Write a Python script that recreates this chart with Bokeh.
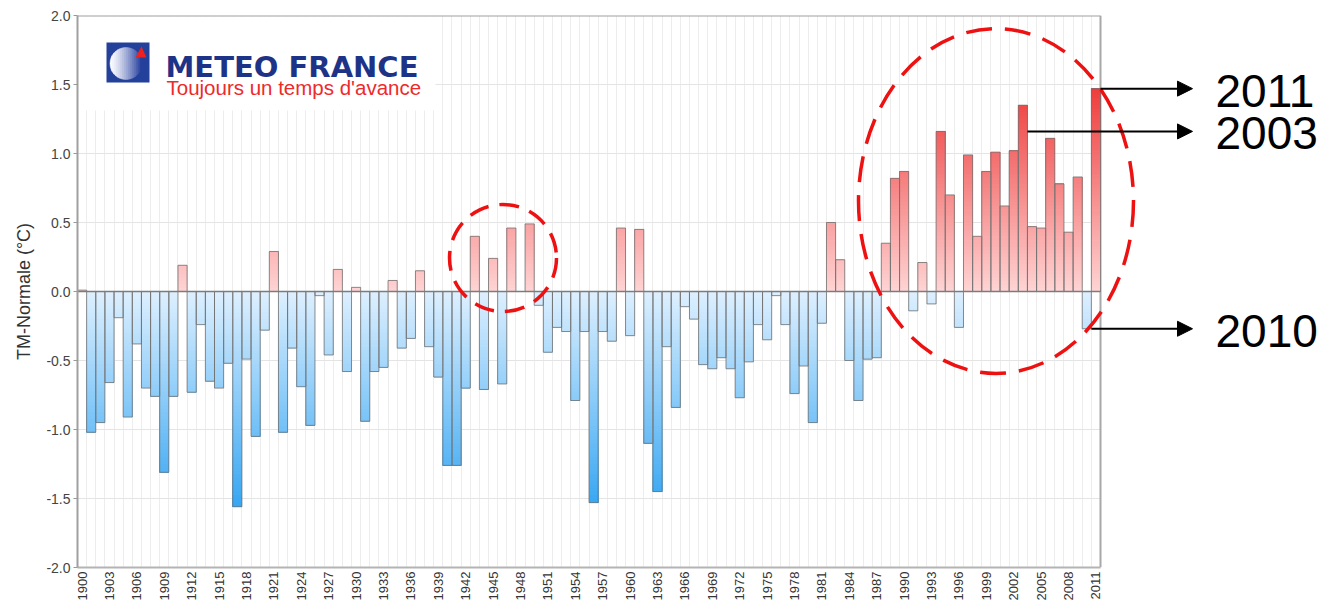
import math
from bokeh.plotting import figure
from bokeh.models import Range1d, FixedTicker, PrintfTickFormatter, Arrow, NormalHead, ColumnDataSource
from bokeh.core.properties import value
from bokeh.embed import file_html
from bokeh.resources import INLINE

# ---------------- data ----------------
years = list(range(1900, 2012))
anomaly = [
    0.01, -1.02, -0.95, -0.66, -0.19, -0.91, -0.38, -0.70, -0.76, -1.31,   # 1900-1909
    -0.76, 0.19, -0.73, -0.24, -0.65, -0.70, -0.52, -1.56, -0.49, -1.05,   # 1910-1919
    -0.28, 0.29, -1.02, -0.41, -0.69, -0.97, -0.03, -0.46, 0.16, -0.58,    # 1920-1929
    0.03, -0.94, -0.58, -0.55, 0.08, -0.41, -0.34, 0.15, -0.40, -0.62,     # 1930-1939
    -1.26, -1.26, -0.70, 0.40, -0.71, 0.24, -0.67, 0.46, 0.00, 0.49,       # 1940-1949
    -0.10, -0.44, -0.26, -0.29, -0.79, -0.29, -1.53, -0.29, -0.36, 0.46,   # 1950-1959
    -0.32, 0.45, -1.10, -1.45, -0.40, -0.84, -0.11, -0.20, -0.53, -0.56,   # 1960-1969
    -0.48, -0.56, -0.77, -0.51, -0.24, -0.35, -0.03, -0.24, -0.74, -0.54,  # 1970-1979
    -0.95, -0.23, 0.50, 0.23, -0.50, -0.79, -0.49, -0.48, 0.35, 0.82,      # 1980-1989
    0.87, -0.14, 0.21, -0.09, 1.16, 0.70, -0.26, 0.99, 0.40, 0.87,         # 1990-1999
    1.01, 0.62, 1.02, 1.35, 0.47, 0.46, 1.11, 0.78, 0.43, 0.83,            # 2000-2009
    -0.27, 1.47,                                                           # 2010-2011
]
tick_years = years[::3]
y_ticks = [-2.0, -1.5, -1.0, -0.5, 0.0, 0.5, 1.0, 1.5, 2.0]
y_label = "TM-Normale (°C)"
ann_years = [2011, 2003, 2010]
ann_text = ["2011", "2003", "2010"]
ann_y = [1.47, 1.16, -0.27]
logo_title = "METEO FRANCE"
logo_slogan = "Toujours un temps d'avance"

# ---------------- layout ----------------
W, H = 1330, 607
BL, BT, BB = 77, 15, 40
FW, FH = W - BL, H - BT - BB
X0, X1 = years[0] - 0.5, years[-1] + 0.5
PX = (1101 - 78) / len(years)          # screen px per year inside the chart box
PY = FH / 4.0                           # screen px per degree
XEND = X0 + FW / PX


def sx(px):  # page x (screenshot) -> data x
    return X0 + (px - 78) / PX


def sy(py):  # page y (screenshot) -> data y
    return 2.0 - (py - 16) / PY


p = figure(width=W, height=H, output_backend="svg", toolbar_location=None,
           x_range=Range1d(X0, XEND), y_range=Range1d(-2.0, 2.0),
           min_border_left=BL, min_border_right=0, min_border_top=BT, min_border_bottom=BB)
p.outline_line_color = None
p.background_fill_color = "white"
p.border_fill_color = "white"

# grid
p.xgrid.ticker = FixedTicker(ticks=[y + 0.5 for y in years[:-1]])
p.xgrid.bounds = (X0, X1)
p.xgrid.grid_line_color = "#ededed"
p.xgrid.grid_line_width = 1
p.ygrid.grid_line_color = None
hg = [t for t in y_ticks if t not in (0.0, 2.0, -2.0)]
p.segment(x0=[X0] * len(hg), x1=[X1] * len(hg), y0=hg, y1=hg, line_color="#e4e4e4", line_width=1)

# logo background (hides grid)
p.quad(left=[sx(79)], right=[sx(436)], top=[sy(17)], bottom=[sy(111)],
       fill_color="white", line_color=None)

# axes
p.xaxis.ticker = FixedTicker(ticks=tick_years)
p.xaxis.bounds = (X0, X1)
p.xaxis.major_label_orientation = math.pi / 2
p.xaxis.major_label_text_font = "Liberation Sans"
p.xaxis.major_label_text_font_size = "13px"
p.xaxis.major_label_text_color = "#333333"
p.xaxis.major_label_standoff = 4
p.xaxis.major_tick_out = 0
p.xaxis.major_tick_in = 0
p.xaxis.major_tick_line_color = None
p.xaxis.minor_tick_line_color = None
p.xaxis.axis_line_color = "#b4b4b4"
p.xaxis.axis_line_width = 2

p.yaxis.ticker = FixedTicker(ticks=y_ticks)
p.yaxis.formatter = PrintfTickFormatter(format="%.1f")
p.yaxis.major_label_text_font = "Liberation Sans"
p.yaxis.major_label_text_font_size = "14px"
p.yaxis.major_label_text_color = "#444444"
p.yaxis.major_label_standoff = 3
p.yaxis.major_tick_out = 4
p.yaxis.major_tick_in = 0
p.yaxis.major_tick_line_color = "#999999"
p.yaxis.minor_tick_line_color = None
p.yaxis.axis_line_color = "#a0a0a0"
p.yaxis.axis_line_width = 2
p.yaxis.axis_label = y_label
p.yaxis.axis_label_text_font = "Liberation Sans"
p.yaxis.axis_label_text_font_size = "18px"
p.yaxis.axis_label_text_font_style = "normal"
p.yaxis.axis_label_text_color = "#333333"
p.yaxis.axis_label_standoff = 9

# box border (top / right)
p.segment(x0=[X0], x1=[X1], y0=[2.0], y1=[2.0], line_color="#a0a0a0", line_width=2)
p.segment(x0=[X1], x1=[X1], y0=[-2.0], y1=[2.0], line_color="#a8a8a8", line_width=2)


# bars with vertical gradient
def grad(v):
    if v >= 0:
        t = min(v / 1.5, 1.0)
        c0, c1 = (255, 212, 212), (238, 58, 58)
    else:
        t = min(-v / 1.6, 1.0)
        c0, c1 = (222, 240, 255), (50, 164, 242)
    r, g, b = (int(round(a + (bb - a) * t)) for a, bb in zip(c0, c1))
    return "#%02x%02x%02x" % (r, g, b)


STEP = 0.025
sl = dict(left=[], right=[], bottom=[], top=[], color=[])
for yr, v in zip(years, anomaly):
    n = int(math.ceil(abs(v) / STEP - 1e-9))
    s = 1 if v >= 0 else -1
    for k in range(n):
        b = s * k * STEP
        mid = min(abs(b) + STEP / 2, abs(v)) * s
        sl["left"].append(yr - 0.5)
        sl["right"].append(yr + 0.5)
        sl["bottom"].append(min(b, v))
        sl["top"].append(max(b, v))
        sl["color"].append(grad(mid))
p.quad(source=ColumnDataSource(sl), left="left", right="right", bottom="bottom", top="top",
       fill_color="color", line_color=None)

bars = ColumnDataSource(dict(
    left=[y - 0.5 for y in years], right=[y + 0.5 for y in years],
    bottom=[min(0, v) for v in anomaly], top=[max(0, v) for v in anomaly]))
p.quad(source=bars, left="left", right="right", bottom="bottom", top="top",
       fill_color=None, line_color="#707070", line_alpha=0.8, line_width=1)

# zero line
p.segment(x0=[X0], x1=[X1], y0=[0], y1=[0], line_color="#7c7c7c", line_width=1.5)

# logo
p.quad(left=[sx(107)], right=[sx(150)], top=[sy(43)], bottom=[sy(83)],
       fill_color="#23409a", line_color=None)
cx, cy, r = 126.5, 64.0, 16.0
N = 16
xs_list, ys_list, cols = [], [], []
for i in range(N):
    a = cx - r + 2 * r * i / N
    b = cx - r + 2 * r * (i + 1) / N
    pts_x, pts_y = [], []
    m = 8
    for j in range(m + 1):
        xx = a + (b - a) * j / m
        h = math.sqrt(max(r * r - (xx - cx) ** 2, 0))
        pts_x.append(xx); pts_y.append(cy - h)
    for j in range(m, -1, -1):
        xx = a + (b - a) * j / m
        h = math.sqrt(max(r * r - (xx - cx) ** 2, 0))
        pts_x.append(xx); pts_y.append(cy + h)
    xs_list.append([sx(q) for q in pts_x])
    ys_list.append([sy(q) for q in pts_y])
    t = (i / (N - 1)) ** 1.3
    c0, c1 = (250, 250, 255), (40, 66, 158)
    cols.append("#%02x%02x%02x" % tuple(int(round(u + (w - u) * t)) for u, w in zip(c0, c1)))
p.patches(xs=xs_list, ys=ys_list, fill_color=cols, line_color=cols, line_width=0.5)
p.patch(x=[sx(136), sx(142), sx(147)], y=[sy(58), sy(47), sy(58)], fill_color="#ee2020", line_color=None)
p.text(x=[sx(166)], y=[sy(67)], text=[logo_title], text_font=value("DejaVu Sans"),
       text_font_style="bold", text_font_size="29px", text_color="#1d3388", text_baseline="alphabetic")
p.text(x=[sx(167)], y=[sy(88)], text=[logo_slogan], text_font=value("Liberation Sans"),
       text_font_size="20.5px", text_color="#ee2a2a", text_baseline="alphabetic")

# dashed ellipses
p.ellipse(x=[sx(996.5)], y=[sy(201.5)], width=[275 / PX], height=[345 / PY],
          fill_color=None, line_color="#ee1111", line_width=3.5, line_dash="26 13")
p.ellipse(x=[sx(503.5)], y=[sy(258.5)], width=[107 / PX], height=[107 / PY],
          fill_color=None, line_color="#ee1111", line_width=3.5, line_dash="20 11")

# arrows + labels
for yr, yv in zip(ann_years, ann_y):
    p.add_layout(Arrow(end=NormalHead(size=15, fill_color="black", line_color="black"),
                       x_start=yr + 0.5, y_start=yv, x_end=sx(1193), y_end=yv,
                       line_color="black", line_width=2))
p.text(x=[sx(1216)] * len(ann_years), y=ann_y, text=ann_text, text_font=value("Liberation Sans"),
       text_font_size="46px", text_color="black", text_baseline="middle", y_offset=2)

open("out.html", "w").write(file_html(p, INLINE))
